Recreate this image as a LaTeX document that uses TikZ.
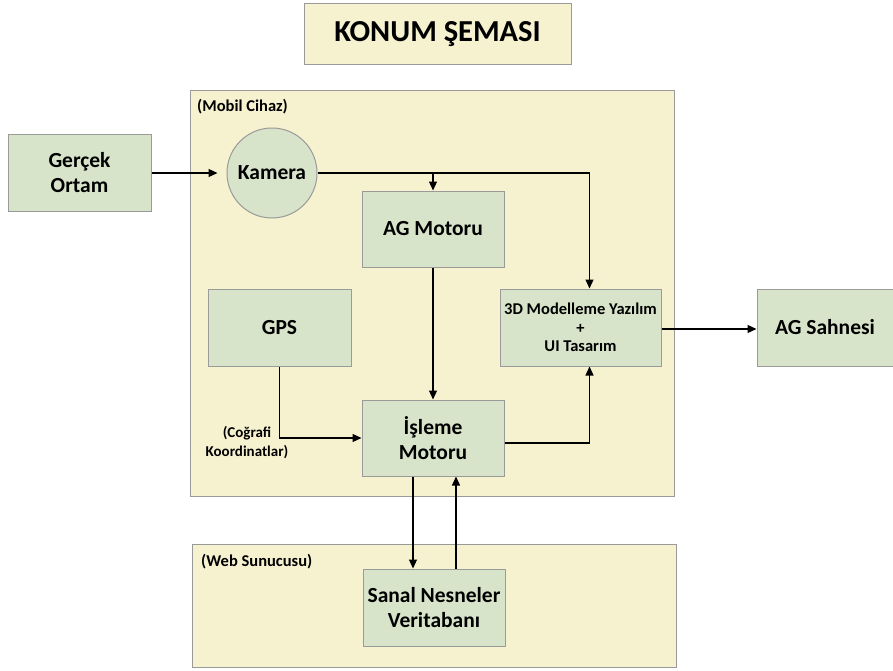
\documentclass[tikz,border=0pt]{standalone}
\usepackage{fontspec}
\setmainfont{Carlito}
\usetikzlibrary{arrows.meta}

\definecolor{zemin}{HTML}{F6F1CF}
\definecolor{kutuyesil}{HTML}{D8E4CA}
\definecolor{kenar}{HTML}{9A9A9A}

\tikzset{
  bolge/.style={draw=kenar, line width=1pt, fill=zemin, inner sep=0pt},
  kutu/.style={draw=kenar, line width=1pt, fill=kutuyesil, align=center, inner sep=0pt,
    font=\fontsize{21.5}{25}\selectfont\bfseries},
  baslik/.style={font=\fontsize{16.5}{19}\selectfont\bfseries, inner sep=0pt, align=center},
  ok/.style={line width=1.2pt, -{Triangle[length=9pt,width=8pt]}}
}

\begin{document}
\begin{tikzpicture}[x=1pt,y=-1pt]
        \useasboundingbox (0,0) rectangle (893,671);
        % bolgeler
        \node[bolge, minimum width=267, minimum height=61, font=\fontsize{30.5}{36}\selectfont\bfseries] (title) at (437.5,34.5) {KONUM ŞEMASI};
        \node[bolge, minimum width=484, minimum height=405] (mobil) at (432,293.5) {};
        \node[bolge, minimum width=484, minimum height=123] (web) at (434,605.5) {};
        \node[baslik, anchor=west] (mobiltxt) at (197,107) {(Mobil Cihaz)};
        \node[baslik, anchor=west] (webtxt) at (201,562) {(Web Sunucusu)};
        % kutular
        \node[kutu, minimum width=143, minimum height=77] (gercek) at (79.5,173) {Gerçek\\Ortam};
        \node[kutu, circle, minimum size=90] (kamera) at (272,173) {Kamera};
        \node[kutu, minimum width=142, minimum height=76] (agmotor) at (433,229) {AG Motoru};
        \node[kutu, minimum width=143, minimum height=77] (gps) at (279.5,327.5) {GPS};
        \node[kutu, minimum width=142, minimum height=76] (isleme) at (433,438) {İşleme\\Motoru};
        \node[kutu, minimum width=161, minimum height=77, font=\fontsize{16.5}{18.5}\selectfont\bfseries] (model) at (580.5,327.5) {3D Modelleme Yazılım\\+\\UI Tasarım};
        \node[kutu, minimum width=136, minimum height=77] (sahne) at (825,327.5) {AG Sahnesi};
        \node[kutu, minimum width=142, minimum height=77] (sanal) at (434,607.5) {Sanal Nesneler\\Veritabanı};
        \node[baslik, font=\fontsize{15}{19}\selectfont\bfseries] (cografi) at (247,443) {(Coğrafi\\Koordinatlar)};
        % oklar
        \draw[ok, shorten >=9pt] (gercek.east) -- (kamera.west);
        \draw[ok] (kamera.east) -| ([xshift=9pt]model.north);
        \draw[ok] (agmotor.north |- kamera.east) -- (agmotor.north);
        \draw[ok] (agmotor.south) -- (isleme.north);
        \draw[ok] (gps.south) |- (isleme.west);
        \draw[ok] ([yshift=-5pt]isleme.east) -| ([xshift=9pt]model.south);
        \draw[ok] ([yshift=-1.5pt]model.east) -- ([yshift=-1.5pt]sahne.west);
        \draw[ok] ([xshift=-20pt]isleme.south) -- ([xshift=-20pt]isleme.south |- sanal.north);
        \draw[ok] ([xshift=23pt]isleme.south |- sanal.north) -- ([xshift=23pt]isleme.south);
\end{tikzpicture}
\end{document}
